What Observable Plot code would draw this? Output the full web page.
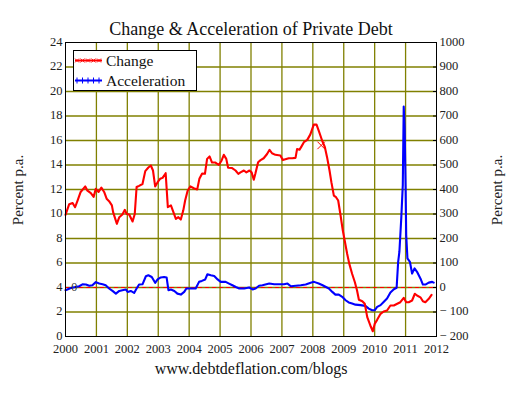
<!DOCTYPE html>
<html>
<head>
<meta charset="utf-8">
<script src="https://cdn.jsdelivr.net/npm/d3@7"></script>
<script src="https://cdn.jsdelivr.net/npm/@observablehq/plot@0.6"></script>
<style>
  body { margin: 0; background: #fff; }
  #chart { position: relative; width: 516px; height: 395px; }
</style>
</head>
<body>
<div id="chart"></div>
<script>
// ---- Data ----
const changeYear = [2000.0,2000.12,2000.23,2000.31,2000.39,2000.49,2000.64,2000.71,2000.82,2000.91,2000.98,2001.07,2001.16,2001.25,2001.33,2001.41,2001.50,2001.54,2001.61,2001.66,2001.74,2001.84,2001.92,2001.98,2002.06,2002.17,2002.24,2002.30,2002.38,2002.49,2002.58,2002.68,2002.76,2002.83,2002.90,2002.98,2003.06,2003.14,2003.24,2003.31,2003.41,2003.57,2003.65,2003.73,2003.81,2003.87,2003.95,2004.04,2004.15,2004.26,2004.33,2004.42,2004.51,2004.58,2004.66,2004.74,2004.85,2004.96,2005.05,2005.12,2005.20,2005.26,2005.39,2005.50,2005.59,2005.66,2005.77,2005.85,2005.95,2006.02,2006.09,2006.14,2006.23,2006.31,2006.41,2006.52,2006.60,2006.68,2006.79,2006.95,2007.03,2007.22,2007.33,2007.44,2007.49,2007.57,2007.63,2007.71,2007.82,2007.92,2008.03,2008.12,2008.19,2008.30,2008.39,2008.46,2008.54,2008.60,2008.68,2008.75,2008.82,2008.89,2008.97,2009.03,2009.11,2009.18,2009.27,2009.36,2009.43,2009.49,2009.60,2009.68,2009.76,2009.86,2009.94,2010.00,2010.08,2010.19,2010.29,2010.40,2010.51,2010.62,2010.73,2010.83,2010.94,2011.02,2011.10,2011.21,2011.30,2011.37,2011.48,2011.56,2011.64,2011.75,2011.84];
const changeValue = [9.93,10.8,10.9,10.55,11.1,11.8,12.25,11.9,11.7,11.4,12.05,11.8,12.15,11.8,11.25,11.05,10.7,10.15,9.6,9.2,9.74,9.96,10.34,10.0,9.96,9.39,10.0,12.2,12.3,12.45,13.5,13.8,13.96,13.55,12.25,12.6,12.87,12.95,13.33,10.56,10.7,9.6,9.74,9.55,10.3,11.1,11.9,12.25,12.1,12.0,12.87,13.3,13.28,14.5,14.7,14.2,14.2,14.0,14.37,14.83,14.5,13.77,13.75,13.55,13.28,13.4,13.55,13.4,13.55,13.4,12.8,13.28,14.23,14.4,14.55,14.9,15.24,14.96,14.83,14.77,14.4,14.55,14.55,14.58,15.3,15.24,15.5,15.86,16.05,16.5,17.3,17.3,16.8,16.0,15.45,14.64,13.55,12.6,11.5,11.37,11.1,10.0,8.65,7.84,6.75,5.93,5.12,4.43,3.76,3.0,2.88,2.67,1.58,0.9,0.43,1.03,1.36,1.85,2.04,2.12,2.53,2.53,2.67,2.8,3.16,2.8,2.8,2.94,3.49,3.35,3.2,2.88,2.8,3.08,3.4];

const accelYear = [2000.0,2000.06,2000.17,2000.33,2000.44,2000.55,2000.66,2000.77,2000.87,2000.98,2001.09,2001.20,2001.30,2001.41,2001.52,2001.63,2001.74,2001.84,2001.95,2002.01,2002.11,2002.22,2002.30,2002.38,2002.49,2002.60,2002.68,2002.79,2002.90,2002.98,2003.08,2003.19,2003.27,2003.33,2003.41,2003.52,2003.62,2003.73,2003.84,2003.91,2004.05,2004.21,2004.32,2004.41,2004.52,2004.59,2004.70,2004.81,2004.92,2005.02,2005.18,2005.29,2005.40,2005.51,2005.62,2005.78,2005.94,2006.05,2006.15,2006.26,2006.37,2006.59,2006.75,2006.91,2007.07,2007.18,2007.29,2007.45,2007.61,2007.77,2007.93,2008.04,2008.19,2008.30,2008.41,2008.52,2008.63,2008.73,2008.84,2008.95,2009.06,2009.16,2009.27,2009.38,2009.54,2009.70,2009.81,2009.92,2010.00,2010.08,2010.19,2010.29,2010.40,2010.51,2010.62,2010.71,2010.76,2010.80,2010.86,2010.91,2010.94,2010.97,2011.00,2011.02,2011.06,2011.14,2011.21,2011.29,2011.37,2011.48,2011.56,2011.64,2011.75,2011.86,2011.91];
const accelValue = [-11,-8,-2,2,5,13,12,7,9,22,16,13,9,-4,-14,-25,-14,-11,-8,-18,-14,-22,-4,12,13,46,50,43,19,33,41,43,41,-11,-8,-14,-25,-29,-18,-4,-4,-4,23,27,33,54,50,47,33,23,23,16,9,2,-4,-4,0,-8,-4,7,9,16,13,13,13,16,5,7,9,12,19,23,16,10,3,-4,-18,-29,-29,-38,-52,-61,-65,-70,-72,-75,-86,-93,-93,-79,-72,-59,-45,-20,-7,-1,105,146,282,419,739,651,419,214,119,105,57,78,64,37,12,12,20,23,20];

const seriesNames = ["Change", "Acceleration"];
const seriesColors = ["#ff0000", "#0000ff"];
const yearTicks = d3.range(2000, 2013);
const leftTicks = d3.range(0, 25, 2);
const rightTicks = d3.range(-200, 1001, 100);
const titleText = "Change & Acceleration of Private Debt";
const captionText = "www.debtdeflation.com/blogs";
const axisLabel = "Percent p.a.";

// Acceleration (right axis) mapped onto left-axis units: left = 4 + right/50
const toLeft = r => 4 + r / 50;
const toRight = l => (l - 4) * 50;

const changeData = changeYear.map((t, i) => ({t, v: changeValue[i]}));
const accelData = accelYear.map((t, i) => ({t, v: accelValue[i]}));

const font = "'Liberation Serif', 'Times New Roman', serif";
const olive = "#808000";
const fmtRight = d => d < 0 ? "\u2212 " + (-d) : String(d);

const plot = Plot.plot({
  width: 516,
  height: 395,
  marginLeft: 65,
  marginRight: 80,
  marginTop: 42,
  marginBottom: 59,
  style: {fontFamily: font, fontSize: "12.5px", color: "#222", background: "#fff"},
  x: {domain: [2000, 2012], label: null},
  y: {domain: [0, 24], label: null},
  marks: [
    Plot.gridX(yearTicks.slice(1, -1), {stroke: olive, strokeOpacity: 1, strokeWidth: 1.3}),
    Plot.gridY(leftTicks.slice(1, -1), {stroke: olive, strokeOpacity: 1, strokeWidth: 1.3}),
    Plot.ruleY([toLeft(0)], {stroke: "#ff0000", strokeWidth: 1, strokeDasharray: "4,3"}),
    Plot.axisX(yearTicks, {tickSize: 0, tickPadding: 8, tickFormat: d => String(d), fontSize: 12.5, fill: "#222"}),
    Plot.axisY(leftTicks, {anchor: "left", tickSize: 0, tickPadding: 3, dy: -1, fontSize: 12.5, fill: "#222"}),
    Plot.axisY(rightTicks.map(toLeft), {anchor: "right", tickSize: -4, stroke: "#000", tickFormat: () => ""}),
    Plot.axisY(rightTicks.map(toLeft), {anchor: "right", tickSize: 0, tickPadding: 3, dy: -1, tickFormat: d => fmtRight(Math.round(toRight(d))), fontSize: 12.5, fill: "#222"}),
    Plot.line(accelData, {x: "t", y: d => toLeft(d.v), stroke: seriesColors[1], strokeWidth: 2.1}),
    Plot.line(changeData, {x: "t", y: "v", stroke: seriesColors[0], strokeWidth: 2.1}),
    Plot.dot([{t: 2008.27, v: 15.6}], {x: "t", y: "v", symbol: "times", r: 3.5, stroke: seriesColors[0], strokeWidth: 1}),
    Plot.text(["0"], {x: 2000.28, y: toLeft(0), text: d => d, fontSize: 12, fill: "#333"}),
    Plot.frame({stroke: "#000", strokeWidth: 1}),
    Plot.text([titleText], {frameAnchor: "top", dy: -20, text: d => d, fontSize: 18, fill: "#111"}),
    Plot.text([captionText], {frameAnchor: "bottom", dy: 37, text: d => d, fontSize: 16, fill: "#111"})
  ]
});

document.getElementById("chart").appendChild(plot);

const svg = d3.select(plot);

// Rotated axis titles
[[18, 190], [497, 190]].forEach(([x, y]) => {
  svg.append("text")
    .attr("transform", `translate(${x},${y}) rotate(-90)`)
    .attr("text-anchor", "middle").attr("dy", "0.35em")
    .attr("font-family", font).attr("font-size", 15).attr("fill", "#222")
    .text(axisLabel);
});

// Legend box (decorative, drawn in pixel space)
const lg = svg.append("g").attr("font-family", font);
lg.append("rect").attr("x", 73.5).attr("y", 50.5).attr("width", 123).attr("height", 40)
  .attr("fill", "#fff").attr("stroke", "#000").attr("stroke-width", 1);
seriesNames.forEach((name, i) => {
  const y = 60.5 + i * 20;
  lg.append("line").attr("x1", 75).attr("x2", 102).attr("y1", y).attr("y2", y)
    .attr("stroke", seriesColors[i]).attr("stroke-width", 2);
  for (let k = 0; k < 5; k++) {
    const cx = 77 + k * 5.5;
    if (i === 0) {
      lg.append("path").attr("d", `M${cx-2},${y-2}L${cx+2},${y+2}M${cx-2},${y+2}L${cx+2},${y-2}`)
        .attr("stroke", seriesColors[i]).attr("stroke-width", 0.8);
    } else {
      lg.append("path").attr("d", `M${cx},${y-3}V${y+3}`)
        .attr("stroke", seriesColors[i]).attr("stroke-width", 1);
    }
  }
  lg.append("text").attr("x", 106).attr("y", y).attr("dy", "0.35em")
    .attr("text-anchor", "start")
    .attr("font-size", 15.5).attr("fill", "#111").text(name);
});
</script>
</body>
</html>
